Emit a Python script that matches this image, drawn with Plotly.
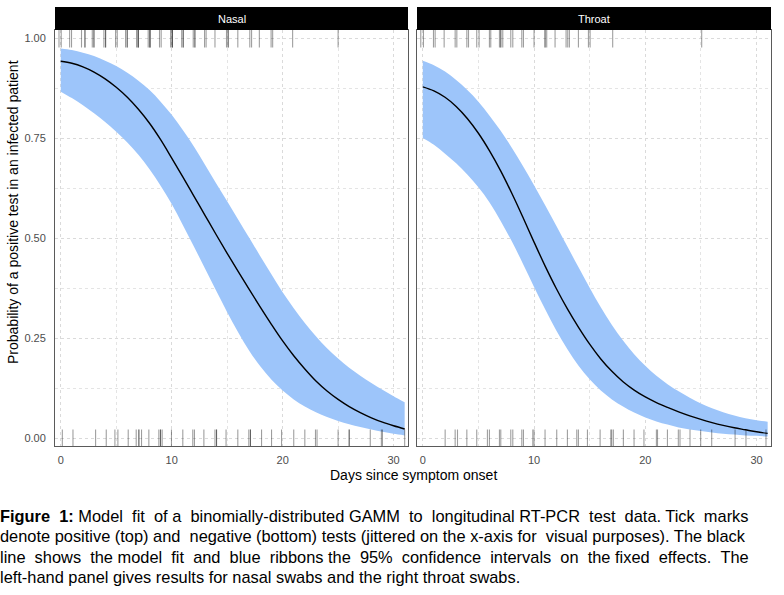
import plotly.graph_objects as go

# ---------------- data ----------------
days = list(range(32))

nasal_fit = [0.943, 0.938, 0.929, 0.916, 0.899, 0.878, 0.853, 0.823, 0.788, 0.747,
             0.701, 0.654, 0.606, 0.558, 0.510, 0.463, 0.417, 0.372, 0.328, 0.285,
             0.244, 0.207, 0.174, 0.144, 0.119, 0.098, 0.080, 0.065, 0.052, 0.041,
             0.032, 0.024]
nasal_upper = [0.975, 0.971, 0.964, 0.956, 0.944, 0.931, 0.914, 0.894, 0.871, 0.842,
               0.809, 0.771, 0.730, 0.684, 0.638, 0.593, 0.547, 0.501, 0.455, 0.410,
               0.366, 0.326, 0.289, 0.256, 0.226, 0.200, 0.177, 0.157, 0.139, 0.122,
               0.106, 0.091]
nasal_lower = [0.867, 0.851, 0.833, 0.813, 0.791, 0.767, 0.740, 0.709, 0.673, 0.632,
               0.586, 0.534, 0.480, 0.425, 0.370, 0.316, 0.265, 0.219, 0.180, 0.147,
               0.120, 0.098, 0.080, 0.066, 0.054, 0.044, 0.036, 0.029, 0.023, 0.017,
               0.012, 0.008]

throat_fit = [0.879, 0.869, 0.853, 0.830, 0.800, 0.763, 0.719, 0.669, 0.613, 0.553,
              0.491, 0.431, 0.375, 0.324, 0.278, 0.236, 0.199, 0.168, 0.142, 0.121,
              0.104, 0.090, 0.078, 0.067, 0.057, 0.048, 0.040, 0.033, 0.027, 0.022,
              0.017, 0.013]
throat_upper = [0.944, 0.933, 0.917, 0.896, 0.871, 0.842, 0.807, 0.769, 0.727, 0.681,
                0.633, 0.583, 0.532, 0.480, 0.428, 0.377, 0.328, 0.284, 0.245, 0.211,
                0.182, 0.157, 0.136, 0.118, 0.102, 0.088, 0.076, 0.066, 0.058, 0.051,
                0.046, 0.042]
throat_lower = [0.751, 0.734, 0.712, 0.688, 0.660, 0.628, 0.590, 0.544, 0.493, 0.437,
                0.379, 0.323, 0.270, 0.223, 0.182, 0.148, 0.120, 0.098, 0.080, 0.065,
                0.053, 0.043, 0.035, 0.028, 0.023, 0.019, 0.015, 0.012, 0.010, 0.008,
                0.007, 0.005]

# jittered test days (rug marks): positive tests at y=1, negative at y=0
nasal_pos = [-0.16, 0.04, 0.8, 0.97, 1.87, 2.18, 2.18, 2.84, 2.99, 2.99, 3.89, 4.04, 4.04,
             4.94, 5.09, 5.84, 5.99, 5.99, 6.83, 6.98, 6.98, 6.98, 7.88, 8.04, 8.04, 8.04,
             8.9, 9.05, 9.9, 10.05, 10.05, 10.05, 10.9, 11.04, 11.04, 11.94, 12.09, 12.09,
             12.96, 13.1, 13.9, 14.94, 15.09, 15.09, 15.96, 17.04, 17.2, 17.9, 18.96, 19.1,
             20.9, 25.0]
nasal_neg = [0.14, 1.1, 3.14, 4.1, 4.88, 5.15, 6.08, 6.8, 7.04, 7.04, 7.28, 7.94, 8.84,
             8.99, 8.99, 9.14, 9.98, 11.0, 11.9, 12.05, 12.9, 13.9, 14.04, 14.04, 14.9,
             15.96, 16.95, 17.1, 17.1, 18.1, 19.0, 19.9, 21.0, 22.0, 22.96, 23.1, 25.0,
             26.0, 26.0, 27.9, 28.9, 29.0, 31.0]
throat_pos = [-0.18, 0.06, 0.96, 1.11, 1.92, 2.91, 3.06, 3.96, 4.11, 4.85, 5.06, 5.99,
              6.11, 6.89, 7.01, 7.01, 7.19, 7.91, 8.09, 8.9, 9.05, 10.0, 10.99, 10.99,
              11.14, 11.89, 12.88, 13.03, 13.18, 13.99, 14.89, 15.04, 17.07, 25.07]
throat_neg = [2.01, 2.91, 3.12, 3.96, 4.85, 5.81, 5.99, 6.89, 7.01, 7.91, 8.09, 8.9, 9.05,
              9.89, 10.0, 10.99, 12.04, 13.0, 13.84, 13.99, 14.8, 15.94, 16.9, 16.98,
              17.13, 18.03, 18.99, 19.88, 21.0, 21.1, 21.99, 22.97, 23.12, 24.02, 24.98,
              25.97, 28.07, 29.05, 30.85]

panels = ["Nasal", "Throat"]
y_ticks = [0, 0.25, 0.5, 0.75, 1.0]
y_ticklabels = ["0.00", "0.25", "0.50", "0.75", "1.00"]
x_ticks = [0, 10, 20, 30]
x_ticklabels = ["0", "10", "20", "30"]

caption_lines = [
    "<b>Figure 1:</b> Model fit of a binomially-distributed GAMM to longitudinal RT-PCR test data. Tick marks",
    "denote positive (top) and negative (bottom) tests (jittered on the x-axis for visual purposes). The black",
    "line shows the model fit and blue ribbons the 95% confidence intervals on the fixed effects. The",
    "left-hand panel gives results for nasal swabs and the right throat swabs.",
]
caption_extra_spaces = [9, 2, 13, 0]   # widen justified lines

# ---------------- figure ----------------
W, H = 784, 595
RIBBON = "rgb(157,197,250)"
RUG = "rgba(0,0,0,0.38)"
FONT = "Liberation Sans, Arial, sans-serif"

fig = go.Figure()

series = [
    ("x", "y", nasal_fit, nasal_upper, nasal_lower, nasal_pos, nasal_neg),
    ("x2", "y2", throat_fit, throat_upper, throat_lower, throat_pos, throat_neg),
]
for xa, ya, fit, up, lo, pos, neg in series:
    fig.add_trace(go.Scatter(x=days, y=up, mode="lines", line=dict(width=0, color=RIBBON, shape="spline"),
                             xaxis=xa, yaxis=ya, hoverinfo="skip", showlegend=False))
    fig.add_trace(go.Scatter(x=days, y=lo, mode="lines", line=dict(width=0, color=RIBBON, shape="spline"),
                             fill="tonexty", fillcolor=RIBBON,
                             xaxis=xa, yaxis=ya, hoverinfo="skip", showlegend=False))
    fig.add_trace(go.Scatter(x=days, y=fit, mode="lines", line=dict(width=1.4, color="black", shape="spline"),
                             xaxis=xa, yaxis=ya, showlegend=False))
    fig.add_trace(go.Scatter(x=pos, y=[1] * len(pos), mode="markers",
                             marker=dict(symbol="line-ns", size=13, line=dict(width=1.1, color=RUG)),
                             xaxis=xa, yaxis=ya, showlegend=False))
    fig.add_trace(go.Scatter(x=neg, y=[0] * len(neg), mode="markers",
                             marker=dict(symbol="line-ns", size=13, line=dict(width=1.1, color=RUG)),
                             xaxis=xa, yaxis=ya, showlegend=False))


def px_x(p):
    return p / W


def px_y(p):
    return 1 - p / H


panel_top, panel_bot = 30, 446
strip_top = 7
doms = [(55, 408), (417, 771)]

grid_common = dict(showgrid=True, gridcolor="#dadada", griddash="dot", gridwidth=1,
                   zeroline=False, showline=True, linecolor="#5a5a5a", linewidth=1,
                   mirror=True, ticks="", automargin=False,
                   tickfont=dict(family=FONT, size=11, color="#4d4d4d"))
minor_grid = dict(showgrid=True, gridcolor="#e4e4e4", griddash="dot", gridwidth=1)

xr = [-0.52, 31.3]
yr = [-0.0185, 1.021]
for i, (l, r) in enumerate(doms):
    sfx = "" if i == 0 else str(i + 1)
    fig.update_layout(**{
        "xaxis" + sfx: dict(domain=[px_x(l), px_x(r)], range=xr, tickvals=x_ticks,
                            ticktext=x_ticklabels, ticklabelstandoff=4,
                            minor=dict(tickvals=[5, 15, 25], **minor_grid),
                            anchor="y" + sfx, **grid_common),
        "yaxis" + sfx: dict(domain=[px_y(panel_bot), px_y(panel_top)], range=yr,
                            tickvals=y_ticks, ticktext=y_ticklabels,
                            showticklabels=(i == 0), ticklabelstandoff=6,
                            minor=dict(tickvals=[0.125, 0.375, 0.625, 0.875], **minor_grid),
                            anchor="x" + sfx, **grid_common),
    })
    fig.add_shape(type="rect", xref="paper", yref="paper",
                  x0=px_x(l), x1=px_x(r), y0=px_y(panel_top), y1=px_y(strip_top),
                  fillcolor="black", line=dict(width=0), layer="above")
    fig.add_annotation(text=panels[i], xref="paper", yref="paper",
                       x=(px_x(l) + px_x(r)) / 2, y=(px_y(panel_top) + px_y(strip_top)) / 2,
                       showarrow=False, font=dict(family=FONT, size=11, color="white"),
                       xanchor="center", yanchor="middle")

fig.add_annotation(text="Days since symptom onset", xref="paper", yref="paper",
                   x=px_x(413), y=px_y(475), showarrow=False, xanchor="center", yanchor="middle",
                   font=dict(family=FONT, size=14, color="black"))
fig.add_annotation(text="Probability of a positive test in an infected patient", xref="paper",
                   yref="paper", x=px_x(13), y=px_y(212), textangle=-90, showarrow=False,
                   xanchor="center", yanchor="middle",
                   font=dict(family=FONT, size=14, color="black"))


def widen(line, n):
    """Spread n extra non-breaking spaces over the gaps of a line (text justification)."""
    if n == 0:
        return line
    parts = line.split(" ")
    gaps = len(parts) - 1
    out = parts[0]
    added = 0
    for g in range(gaps):
        target = round((g + 1) * n / gaps)
        extra = target - added
        added = target
        out += " " + "\u00a0" * extra + parts[g + 1]
    return out


caption_y = [516, 536, 557, 577]
for txt, extra, yy in zip(caption_lines, caption_extra_spaces, caption_y):
    fig.add_annotation(text=widen(txt, extra), xref="paper", yref="paper", x=px_x(-2), y=px_y(yy),
                       showarrow=False, xanchor="left", yanchor="middle",
                       font=dict(family=FONT, size=16.4, color="black"))

fig.update_layout(width=W, height=H, margin=dict(l=0, r=0, t=0, b=0, autoexpand=False),
                  paper_bgcolor="white", plot_bgcolor="white", showlegend=False)

fig.write_html("out.html", config={"displayModeBar": False},
               post_script="document.body.style.margin='0';document.body.style.overflow='hidden';")
